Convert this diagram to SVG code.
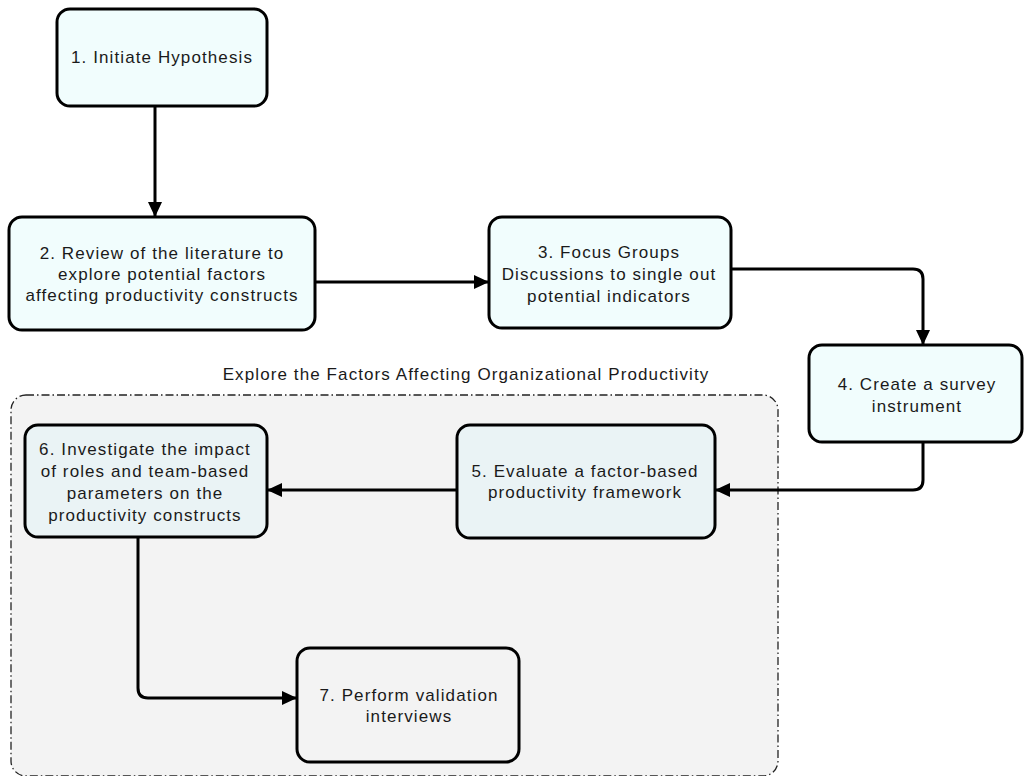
<svg xmlns="http://www.w3.org/2000/svg" width="1024" height="776" viewBox="0 0 1024 776">
<defs>
<marker id="arr" markerUnits="userSpaceOnUse" markerWidth="16" markerHeight="16" refX="15" refY="7" orient="auto">
<path d="M0,0 L15,7 L0,14 z" fill="#000"/>
</marker>
<style>
.node rect{stroke:#000;stroke-width:3}
.c1{fill:#f1fdfd}
.c2{fill:#eaf3f5}
.c3{fill:#f3f3f3}
text{font-family:"Liberation Sans",Arial,sans-serif;font-size:17px;fill:#1a1a1a;text-anchor:middle;letter-spacing:1.1px}
.conn path{fill:none;stroke:#000;stroke-width:3;marker-end:url(#arr)}
</style>
</defs>
<rect width="1024" height="776" fill="#fff"/>
<g id="group">
<rect x="11" y="395" width="767" height="381" rx="15" fill="#f3f3f3" stroke="#222" stroke-width="1.3" stroke-dasharray="8 3 1.5 3"/>
<text x="466" y="380">Explore the Factors Affecting Organizational Productivity</text>
</g>
<g class="conn" id="connectors">
<path d="M155,106 L155,217"/>
<path d="M315,282 L489,282"/>
<path d="M731,269 L913,269 Q923,269 923,279 L923,345"/>
<path d="M923,442 L923,480 Q923,490 913,490 L715,490"/>
<path d="M457,490 L267,490"/>
<path d="M138,537 L138,688 Q138,698 148,698 L297,698"/>
</g>
<g class="node" id="n1"><rect class="c1" x="57" y="9" width="210" height="97" rx="13"/>
<text x="162" y="63">1. Initiate Hypothesis</text></g>
<g class="node" id="n2"><rect class="c1" x="9" y="217" width="306" height="113" rx="13"/>
<text x="162" y="259">2. Review of the literature to</text>
<text x="162" y="280">explore potential factors</text>
<text x="162" y="301">affecting productivity constructs</text></g>
<g class="node" id="n3"><rect class="c1" x="489" y="217" width="242" height="111" rx="13"/>
<text x="609" y="258">3. Focus Groups</text>
<text x="609" y="280">Discussions to single out</text>
<text x="609" y="302">potential indicators</text></g>
<g class="node" id="n4"><rect class="c1" x="809" y="345" width="213" height="97" rx="13"/>
<text x="917" y="390">4. Create a survey</text>
<text x="917" y="412">instrument</text></g>
<g class="node" id="n5"><rect class="c2" x="457" y="425" width="258" height="113" rx="13"/>
<text x="585" y="477">5. Evaluate a factor-based</text>
<text x="585" y="498">productivity framework</text></g>
<g class="node" id="n6"><rect class="c2" x="25" y="425" width="242" height="112" rx="13"/>
<text x="145" y="455">6. Investigate the impact</text>
<text x="145" y="477">of roles and team-based</text>
<text x="145" y="499">parameters on the</text>
<text x="145" y="521">productivity constructs</text></g>
<g class="node" id="n7"><rect class="c3" x="297" y="648" width="222" height="114" rx="13"/>
<text x="409" y="701">7. Perform validation</text>
<text x="409" y="722">interviews</text></g>
</svg>
